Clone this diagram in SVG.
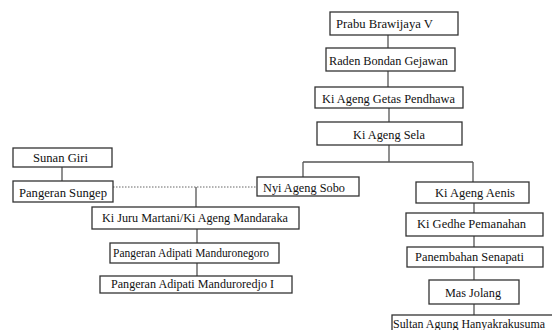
<svg xmlns="http://www.w3.org/2000/svg" width="552" height="330" viewBox="0 0 552 330">
<style>
.box{fill:#fff;stroke:#333;stroke-width:1.3}
.t{font-family:'Liberation Serif','DejaVu Serif',serif;font-size:12px;fill:#111}
.c{fill:none;stroke:#555;stroke-width:1.3}
.d{fill:none;stroke:#666;stroke-width:1;stroke-dasharray:1.5 1.5}
</style>
<rect width="552" height="330" fill="#fff"/>
<g id="connectors">
<path class="c" d="M388 35V48M388 71V87M389 108V122M389 145V162M303 162H473M303 162V177M473 162V182M474 203V213M474 236V247M474 267V280M474 304V315M62 167V181M196 187V207M197 229V243M197 263V276"/>
<path class="d" d="M113 187H257"/>
</g>
<g id="prabu"><rect class="box" x="330" y="12" width="128" height="23"/><text class="t" font-family="Liberation Serif" x="336" y="28" textLength="97" lengthAdjust="spacingAndGlyphs">Prabu Brawijaya V</text></g>
<g id="raden"><rect class="box" x="326" y="48" width="129" height="23"/><text class="t" font-family="Liberation Serif" x="329" y="65" textLength="119" lengthAdjust="spacingAndGlyphs">Raden Bondan Gejawan</text></g>
<g id="getas"><rect class="box" x="315" y="87" width="148" height="21"/><text class="t" font-family="Liberation Serif" x="322" y="103" textLength="133" lengthAdjust="spacingAndGlyphs">Ki Ageng Getas Pendhawa</text></g>
<g id="sela"><rect class="box" x="317" y="122" width="145" height="23"/><text class="t" font-family="Liberation Serif" x="353" y="139" textLength="72" lengthAdjust="spacingAndGlyphs">Ki Ageng Sela</text></g>
<g id="sunan"><rect class="box" x="13" y="148" width="99" height="19"/><text class="t" font-family="Liberation Serif" x="33" y="162" textLength="55" lengthAdjust="spacingAndGlyphs">Sunan Giri</text></g>
<g id="sungep"><rect class="box" x="13" y="181" width="100" height="21"/><text class="t" font-family="Liberation Serif" x="19" y="197" textLength="88" lengthAdjust="spacingAndGlyphs">Pangeran Sungep</text></g>
<g id="nyi"><rect class="box" x="257" y="177" width="102" height="19"/><text class="t" font-family="Liberation Serif" x="263" y="192" textLength="82" lengthAdjust="spacingAndGlyphs">Nyi Ageng Sobo</text></g>
<g id="aenis"><rect class="box" x="416" y="182" width="113" height="21"/><text class="t" font-family="Liberation Serif" x="435" y="197" textLength="80" lengthAdjust="spacingAndGlyphs">Ki Ageng Aenis</text></g>
<g id="juru"><rect class="box" x="92" y="207" width="207" height="22"/><text class="t" font-family="Liberation Serif" x="102" y="222" textLength="186" lengthAdjust="spacingAndGlyphs">Ki Juru Martani/Ki Ageng Mandaraka</text></g>
<g id="gedhe"><rect class="box" x="406" y="213" width="137" height="23"/><text class="t" font-family="Liberation Serif" x="417" y="228" textLength="109" lengthAdjust="spacingAndGlyphs">Ki Gedhe Pemanahan</text></g>
<g id="manduronegoro"><rect class="box" x="110" y="243" width="169" height="20"/><text class="t" font-family="Liberation Serif" x="113" y="257" textLength="156" lengthAdjust="spacingAndGlyphs">Pangeran Adipati Manduronegoro</text></g>
<g id="panembahan"><rect class="box" x="407" y="247" width="136" height="20"/><text class="t" font-family="Liberation Serif" x="415" y="261" textLength="109" lengthAdjust="spacingAndGlyphs">Panembahan Senapati</text></g>
<g id="manduroredjo"><rect class="box" x="100" y="276" width="192" height="17"/><text class="t" font-family="Liberation Serif" x="111" y="288" textLength="163" lengthAdjust="spacingAndGlyphs">Pangeran Adipati Manduroredjo I</text></g>
<g id="masjolang"><rect class="box" x="429" y="280" width="90" height="24"/><text class="t" font-family="Liberation Serif" x="445" y="297" textLength="56" lengthAdjust="spacingAndGlyphs">Mas Jolang</text></g>
<g id="sultan"><rect class="box" x="392" y="315" width="170" height="24"/><text class="t" font-family="Liberation Serif" x="393" y="328" textLength="152" lengthAdjust="spacingAndGlyphs">Sultan Agung Hanyakrakusuma</text></g>
</svg>
